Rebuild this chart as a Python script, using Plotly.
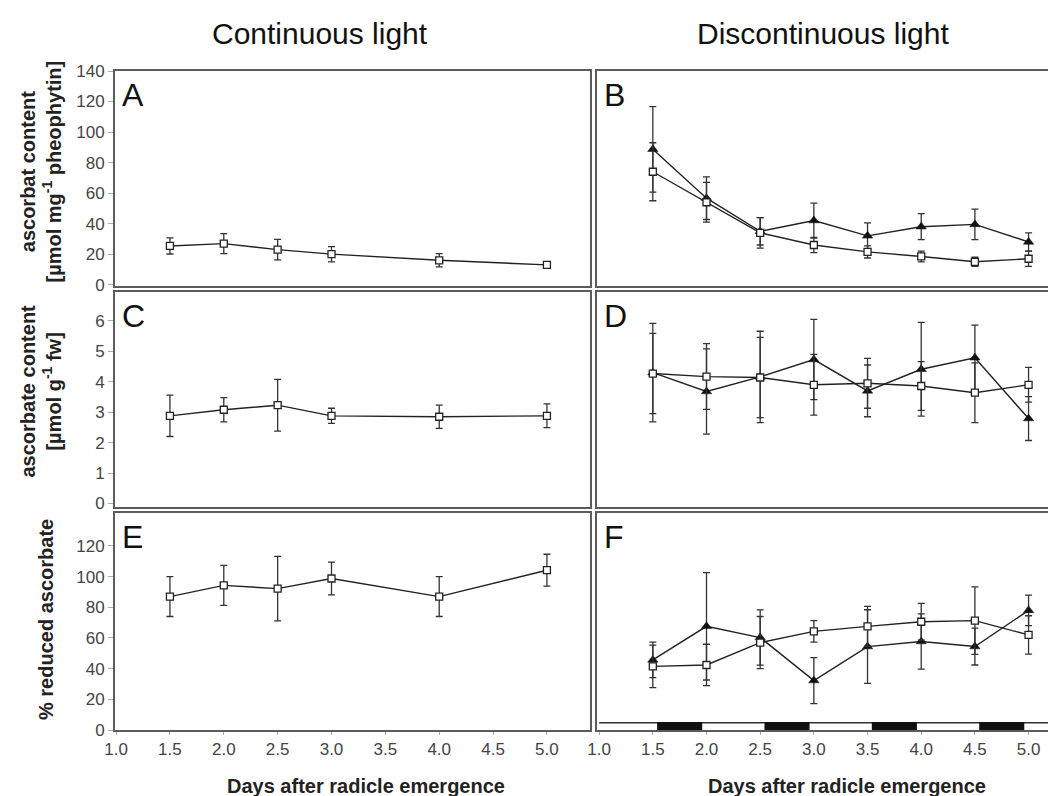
import plotly.graph_objects as go

# ---------------- data ----------------
x_cont = [1.5, 2.0, 2.5, 3.0, 4.0, 5.0]
x_disc = [1.5, 2.0, 2.5, 3.0, 3.5, 4.0, 4.5, 5.0]

A_sq = [25.4, 26.9, 23.0, 20.0, 16.0, 13.0]
A_sq_err = [5.3, 6.5, 6.7, 5.0, 4.3, 1.0]

B_sq = [74, 54, 34, 26, 21.5, 18.5, 15, 17]
B_sq_err = [19, 13, 10, 5, 4, 3.5, 3, 5]
B_tri = [88.7, 56.7, 35, 42, 32, 38, 39.5, 28]
B_tri_err = [28, 14, 9, 11.5, 8.5, 8.5, 10, 6]

C_sq = [2.88, 3.08, 3.23, 2.88, 2.85, 2.88]
C_sq_err = [0.68, 0.40, 0.85, 0.25, 0.38, 0.39]

D_sq = [4.27, 4.17, 4.14, 3.90, 3.95, 3.86, 3.64, 3.90]
D_sq_err = [1.32, 1.08, 1.32, 1.0, 0.82, 0.8, 0.98, 0.57]
D_tri = [4.30, 3.68, 4.16, 4.73, 3.70, 4.41, 4.79, 2.79]
D_tri_err = [1.62, 1.40, 1.50, 1.32, 0.85, 1.54, 1.07, 0.72]

E_sq = [87, 94.3, 92.2, 98.8, 87, 104.2]
E_sq_err = [13, 13, 21, 10.7, 13, 10.4]

F_sq = [41.5, 42.4, 57, 64.3, 67.6, 70.6, 71.3, 62]
F_sq_err = [13.9, 13.5, 17, 7, 13, 12, 22, 12.5]
F_tri = [45.7, 67.6, 60.3, 32.2, 54.4, 57.7, 54.4, 78]
F_tri_err = [11.6, 35, 18, 15, 24, 18, 12, 10]

dark_start = [1.54, 2.54, 3.54, 4.54]
dark_end = [1.96, 2.96, 3.96, 4.96]

x_ticks = [1.0, 1.5, 2.0, 2.5, 3.0, 3.5, 4.0, 4.5, 5.0]
x_ticklabels = ["1.0", "1.5", "2.0", "2.5", "3.0", "3.5", "4.0", "4.5", "5.0"]
col_titles = ["Continuous light", "Discontinuous light"]
panel_letters = ["A", "B", "C", "D", "E", "F"]

# ---------------- geometry ----------------
W, H = 1056, 796
ML, MR, MT, MB = 107, 0, 63, 74
PW, PH = W - ML - MR, H - MT - MB

def px_x(px):
    return (px - ML) / PW

def px_y(py):
    return (H - MB - py) / PH

xdom_left = [0.0, px_x(582)]
xdom_right = [px_x(589), 1.0]
ydom_top = [px_y(278), 1.0]
ydom_mid = [px_y(498.5), px_y(284)]
ydom_bot = [0.0, px_y(505)]

LINE = "#222222"
FRAME = "#5c5c5c"
TICKC = "#444444"
FONT = "Liberation Sans, Arial, sans-serif"

fig = go.Figure()

def add_series(x, y, err, axis_n, kind):
    xa = "x" if axis_n == 1 else f"x{axis_n}"
    ya = "y" if axis_n == 1 else f"y{axis_n}"
    if kind == "sq":
        marker = dict(symbol="square", size=7, color="white",
                      line=dict(color=LINE, width=1.3))
    else:
        marker = dict(symbol="triangle-up", size=9, color="#111111",
                      line=dict(color="#111111", width=0.5))
    fig.add_trace(go.Scatter(
        x=x, y=y, mode="lines+markers", xaxis=xa, yaxis=ya,
        line=dict(color=LINE, width=1.4),
        marker=marker,
        error_y=dict(type="data", array=err, symmetric=True,
                     color="#333333", thickness=1.3, width=3.5),
        showlegend=False, cliponaxis=False,
    ))

add_series(x_cont, A_sq, A_sq_err, 1, "sq")
add_series(x_disc, B_tri, B_tri_err, 2, "tri")
add_series(x_disc, B_sq, B_sq_err, 2, "sq")
add_series(x_cont, C_sq, C_sq_err, 3, "sq")
add_series(x_disc, D_tri, D_tri_err, 4, "tri")
add_series(x_disc, D_sq, D_sq_err, 4, "sq")
add_series(x_cont, E_sq, E_sq_err, 5, "sq")
add_series(x_disc, F_tri, F_tri_err, 6, "tri")
add_series(x_disc, F_sq, F_sq_err, 6, "sq")

layout = dict(
    width=W, height=H,
    margin=dict(l=ML, r=MR, t=MT, b=MB),
    paper_bgcolor="white", plot_bgcolor="white",
    font=dict(family=FONT, color=TICKC),
    showlegend=False,
)

yranges = {1: [-0.85, 140], 2: [-0.85, 140], 3: [-0.1, 6.95], 4: [-0.1, 6.95],
           5: [0, 141.5], 6: [0, 141.5]}
ytickvals = {1: [0, 20, 40, 60, 80, 100, 120, 140],
             3: [0, 1, 2, 3, 4, 5, 6],
             5: [0, 20, 40, 60, 80, 100, 120]}
ydoms = {1: ydom_top, 2: ydom_top, 3: ydom_mid, 4: ydom_mid, 5: ydom_bot, 6: ydom_bot}

for n in range(1, 7):
    left = (n % 2 == 1)
    bottom = n >= 5
    xk = "xaxis" if n == 1 else f"xaxis{n}"
    yk = "yaxis" if n == 1 else f"yaxis{n}"
    ya = "y" if n == 1 else f"y{n}"
    xa = "x" if n == 1 else f"x{n}"
    xdict = dict(
        domain=xdom_left if left else xdom_right,
        range=[0.99, 5.4] if left else [0.98, 5.33],
        anchor=ya,
        showgrid=False, zeroline=False,
        showline=True, linecolor=FRAME, linewidth=2, mirror=True,
    )
    if bottom:
        xdict.update(tickmode="array", tickvals=x_ticks, ticktext=x_ticklabels,
                     ticks="outside", ticklen=3, tickcolor="#aaaaaa",
                     tickfont=dict(size=17, color=TICKC, family=FONT))
    else:
        xdict.update(showticklabels=False, ticks="")
    layout[xk] = xdict
    ydict = dict(
        domain=ydoms[n], range=yranges[n], anchor=xa,
        showgrid=False, zeroline=False,
        showline=True, linecolor=FRAME, linewidth=2, mirror=left,
    )
    if left:
        ydict.update(tickmode="array", tickvals=ytickvals[n],
                     ticks="outside", ticklen=5, tickcolor="#aaaaaa",
                     tickfont=dict(size=17, color=TICKC, family=FONT))
    else:
        ydict.update(showticklabels=False, ticks="")
    layout[yk] = ydict

fig.update_layout(**layout)

# dark periods in panel F
shapes = []
shapes.append(dict(type="line", xref="x6", yref="y6", x0=1.0, x1=5.33, y0=4.8, y1=4.8,
                   line=dict(color="#333333", width=1.5)))
for s, e in zip(dark_start, dark_end):
    shapes.append(dict(type="rect", xref="x6", yref="y6", x0=s, x1=e, y0=-1, y1=5.2,
                       fillcolor="#111111", line=dict(width=0)))
fig.update_layout(shapes=shapes)

ann = []
# column titles
ann.append(dict(text=col_titles[0], x=px_x(312), y=px_y(25), xref="paper", yref="paper",
                showarrow=False, xanchor="center", yanchor="middle",
                font=dict(size=30, color="#111111", family=FONT)))
ann.append(dict(text=col_titles[1], x=px_x(815), y=px_y(25), xref="paper", yref="paper",
                showarrow=False, xanchor="center", yanchor="middle",
                font=dict(size=30, color="#111111", family=FONT)))
# panel letters
for i, letter in enumerate(panel_letters):
    n = i + 1
    xa = "x" if n == 1 else f"x{n}"
    ya = "y" if n == 1 else f"y{n}"
    ann.append(dict(text=letter, x=0, y=1, xref=f"{xa} domain", yref=f"{ya} domain",
                    showarrow=False, xanchor="left", yanchor="top", xshift=5, yshift=-4,
                    font=dict(size=32, color="#111111", family=FONT)))
# y axis titles
ytitles = [
    ("ascorbat content<br>[µmol mg<sup>-1</sup> pheophytin]", 32.5, 164),
    ("ascorbate content<br>[µmol g<sup>-1</sup> fw]", 32.5, 383),
    ("% reduced ascorbate", 38, 612),
]
for txt, px, py in ytitles:
    ann.append(dict(text=f"<b>{txt}</b>", x=px_x(px), y=px_y(py), xref="paper", yref="paper",
                    showarrow=False, textangle=-90, xanchor="center", yanchor="middle",
                    font=dict(size=20, color="#222222", family=FONT)))
# x axis titles
for cx in (358, 839):
    ann.append(dict(text="<b>Days after radicle emergence</b>", x=px_x(cx), y=px_y(778),
                    xref="paper", yref="paper", showarrow=False,
                    xanchor="center", yanchor="middle",
                    font=dict(size=20, color="#222222", family=FONT)))
fig.update_layout(annotations=ann)

fig.write_html("out.html")
